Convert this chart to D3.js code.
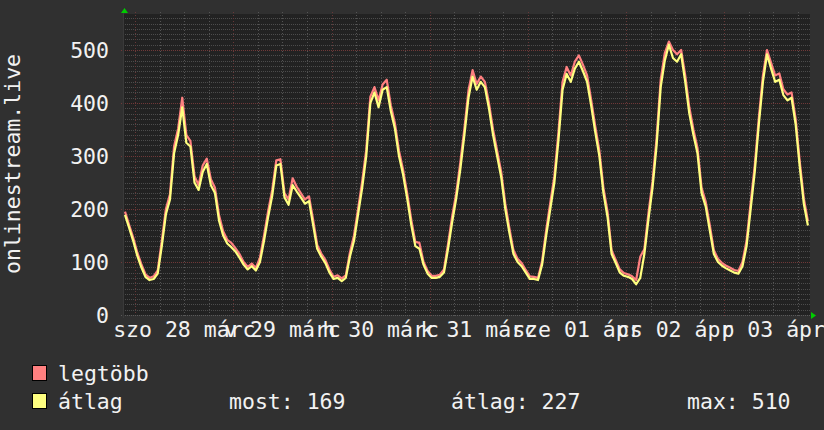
<!DOCTYPE html>
<html>
<head>
<meta charset="utf-8">
<script src="https://cdn.jsdelivr.net/npm/d3@7"></script>
<style>
html,body{margin:0;padding:0;background:#303030;}
svg{display:block;}
text{font-family:"DejaVu Sans Mono",monospace;}
</style>
</head>
<body>
<svg id="chart" width="824" height="430"></svg>
<script>
// ---------------- data ----------------
const seriesNames = ["legtöbb", "átlag"];
const seriesColors = ["#ff8080", "#ffff80"];
const startTime = "2015-03-27T21:00:00Z"; // hourly samples
const avgValues = [
  189,165,140,112,90,72,66,68,78,130,
  190,218,305,340,392,325,318,250,236,270,
  285,245,230,178,150,135,128,120,108,95,
  86,92,84,100,140,185,225,282,285,222,
  208,245,233,222,210,215,170,125,110,98,
  80,68,70,64,70,110,140,190,240,300,
  400,420,392,425,430,385,352,300,265,220,
  170,130,125,95,78,70,70,72,80,125,
  175,220,275,340,410,450,425,440,430,390,
  340,300,260,200,155,115,100,92,80,68,
  68,66,95,150,200,250,330,425,455,440,
  465,478,460,440,395,345,300,230,185,115,
  98,80,74,72,68,58,70,115,180,240,
  320,430,480,510,485,478,492,440,380,340,
  305,230,205,160,115,100,93,88,84,80,
  78,92,130,200,270,360,440,492,465,440,
  444,415,405,410,360,280,210,169
];
const maxValues = [
  195,170,146,118,96,77,70,73,84,140,
  200,228,318,352,410,340,328,262,245,282,
  295,256,240,188,158,142,136,126,115,100,
  91,97,89,108,150,196,236,292,294,230,
  218,258,242,230,218,224,180,132,116,104,
  86,72,75,69,75,118,150,200,252,312,
  412,430,405,435,444,396,362,310,274,230,
  180,138,136,100,83,74,74,76,86,134,
  186,230,288,352,424,462,436,450,440,400,
  350,310,270,210,164,122,106,98,85,73,
  72,70,102,160,212,262,345,440,468,452,
  478,490,472,452,406,356,310,240,195,122,
  104,86,79,77,73,66,110,124,192,252,
  334,444,494,516,500,492,500,452,392,350,
  315,240,214,170,122,106,98,93,89,85,
  83,100,140,212,282,372,452,500,476,452,
  456,426,416,420,370,290,220,177
];
const yTickValues = [0, 100, 200, 300, 400, 500];
const yMax = 568;
const dayLabels = ["szo 28 márc", "v 29 márc", "h 30 márc", "k 31 márc", "sze 01 ápr", "cs 02 ápr", "p 03 ápr"];
const dayLabelTimes = ["2015-03-28T12:00:00Z", "2015-03-29T12:00:00Z", "2015-03-30T12:00:00Z",
  "2015-03-31T12:00:00Z", "2015-04-01T12:00:00Z", "2015-04-02T12:00:00Z", "2015-04-03T12:00:00Z"];
const yAxisTitle = "onlinestream.live";
const legendStats = ["most: 169", "átlag: 227", "max: 510"];

// ---------------- layout ----------------
const P = {left: 123, right: 810, top: 14, bottom: 315};
const fontSize = 21.5;
const textColor = "#f2f2f2";

const svg = d3.select("#chart");
svg.append("rect").attr("width", 824).attr("height", 430).attr("fill", "#303030");
svg.append("rect").attr("x", P.left).attr("y", P.top)
  .attr("width", P.right - P.left).attr("height", P.bottom - P.top).attr("fill", "#222222");

const t0 = new Date(startTime);
const times = avgValues.map((_, i) => new Date(t0.getTime() + i * 3600e3));
const tEnd = new Date(t0.getTime() + avgValues.length * 3600e3);

const x = d3.scaleUtc().domain([t0, tEnd]).range([P.left, P.right]);
const y = d3.scaleLinear().domain([0, yMax]).range([P.bottom, P.top]);

const grid = svg.append("g").attr("shape-rendering", "crispEdges");

// horizontal minor grid
const minorY = d3.range(10, yMax, 10).filter(v => v % 100 !== 0);
grid.selectAll("line.hmin").data(minorY).join("line")
  .attr("x1", P.left).attr("x2", P.right)
  .attr("y1", d => Math.round(y(d)) + 0.5).attr("y2", d => Math.round(y(d)) + 0.5)
  .attr("stroke", "#4c4c4c").attr("stroke-width", 1).attr("stroke-dasharray", "1,1");

// vertical grid every 6h
const vTimes = d3.utcHour.every(6).range(t0, tEnd);
grid.selectAll("line.v").data(vTimes).join("line")
  .attr("x1", d => Math.round(x(d)) + 0.5).attr("x2", d => Math.round(x(d)) + 0.5)
  .attr("y1", P.top - 2).attr("y2", P.bottom + 3)
  .attr("stroke", d => d.getUTCHours() === 0 ? "#663838" : "#545454")
  .attr("stroke-width", 1).attr("stroke-dasharray", "1,2");

// horizontal major grid
grid.selectAll("line.hmaj").data(yTickValues.filter(v => v > 0)).join("line")
  .attr("x1", P.left - 2).attr("x2", P.right)
  .attr("y1", d => Math.round(y(d)) + 0.5).attr("y2", d => Math.round(y(d)) + 0.5)
  .attr("stroke", "#703838").attr("stroke-width", 1).attr("stroke-dasharray", "1,1");

// axis lines
grid.append("line").attr("x1", P.left - 2).attr("x2", P.right + 1)
  .attr("y1", P.bottom + 0.5).attr("y2", P.bottom + 0.5)
  .attr("stroke", "#5a5a5a").attr("stroke-dasharray", "1,1");
grid.append("line").attr("x1", P.left + 0.5).attr("x2", P.left + 0.5)
  .attr("y1", P.top - 2).attr("y2", P.bottom + 3)
  .attr("stroke", "#3a3a3a");

// y tick labels
svg.append("g").selectAll("text").data(yTickValues).join("text")
  .attr("x", 109).attr("y", d => y(d) + 8)
  .attr("text-anchor", "end").attr("font-size", fontSize).attr("fill", textColor)
  .text(d => d);

// x labels (centered at noon)
svg.append("g").selectAll("text").data(dayLabels).join("text")
  .attr("x", (d, i) => x(new Date(dayLabelTimes[i])))
  .attr("y", 337)
  .attr("text-anchor", "middle").attr("font-size", fontSize).attr("fill", textColor)
  .text(d => d);

// y axis title
svg.append("text")
  .attr("transform", "translate(20,164) rotate(-90)")
  .attr("text-anchor", "middle").attr("font-size", fontSize).attr("fill", textColor)
  .text(yAxisTitle);

// series lines
svg.append("clipPath").attr("id", "clip").append("rect")
  .attr("x", P.left).attr("y", P.top).attr("width", P.right - P.left).attr("height", P.bottom - P.top);
const line = d3.line().x((d, i) => x(times[i]) + 2).y(d => y(d)).curve(d3.curveLinear);
const lines = svg.append("g").attr("clip-path", "url(#clip)");
[maxValues, avgValues].forEach((vals, k) => {
  lines.append("path").datum(vals)
    .attr("d", line)
    .attr("fill", "none")
    .attr("stroke", seriesColors[k])
    .attr("stroke-width", 2.2)
    .attr("stroke-linejoin", "round");
});

// green arrows
svg.append("path")
  .attr("d", `M${P.left - 2},${P.top - 1}L${P.left + 1.5},${P.top - 6}L${P.left + 5},${P.top - 1}Z`)
  .attr("fill", "#00cc00");
svg.append("path")
  .attr("d", `M${P.right + 1},${P.bottom - 3}L${P.right + 6},${P.bottom + 0.5}L${P.right + 1},${P.bottom + 4}Z`)
  .attr("fill", "#00cc00");

// legend
const legend = svg.append("g");
const rowsY = [381, 409];
seriesNames.forEach((name, i) => {
  legend.append("rect")
    .attr("x", 32.5).attr("y", rowsY[i] - 15.5)
    .attr("width", 14).attr("height", 15)
    .attr("fill", seriesColors[i]).attr("stroke", "#000").attr("stroke-width", 1);
  legend.append("text").attr("x", 58).attr("y", rowsY[i])
    .attr("font-size", fontSize).attr("fill", textColor).text(name);
});
const statX = [229, 451, 687];
legend.selectAll("text.stat").data(legendStats).join("text")
  .attr("class", "stat")
  .attr("x", (d, i) => statX[i]).attr("y", rowsY[1])
  .attr("font-size", fontSize).attr("fill", textColor)
  .text(d => d);
</script>
</body>
</html>
